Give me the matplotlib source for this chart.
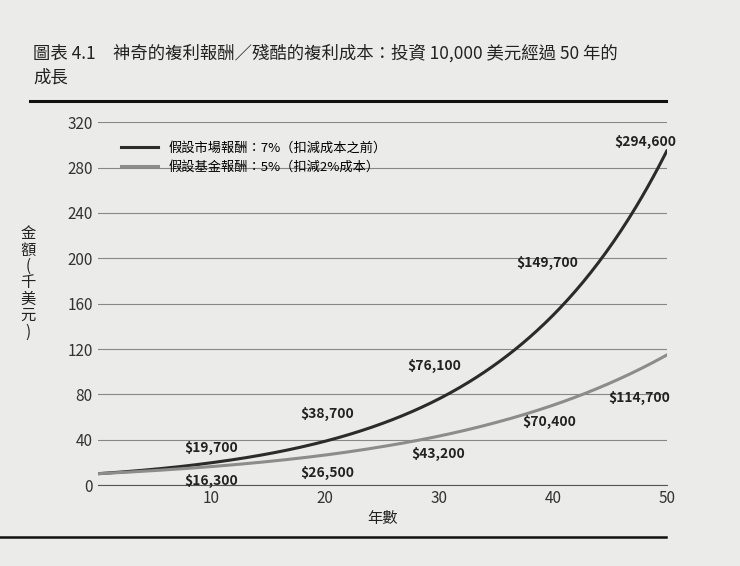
import matplotlib
matplotlib.use('Agg')
import matplotlib.pyplot as plt
import numpy as np

plt.rcParams['font.family'] = ['Noto Sans CJK TC', 'DejaVu Sans']

# Datos (miles de dólares)
anios = [0, 5, 10, 15, 20, 25, 30, 35, 40, 45, 50]
mercado = [10, 14, 19.7, 27.6, 38.7, 54.3, 76.1, 106.8, 149.7, 210, 294.6]
fondo = [10, 12.8, 16.3, 20.8, 26.5, 33.9, 43.2, 55.2, 70.4, 89.9, 114.7]

etiquetas_mercado = [(10, '$19,700'), (20, '$38,700'), (30, '$76,100'),
                     (40, '$149,700'), (50, '$294,600')]
etiquetas_fondo = [(10, '$16,300'), (20, '$26,500'), (30, '$43,200'),
                   (40, '$70,400'), (50, '$114,700')]
# posiciones del texto (x, y) en datos
pos_mercado = [(10, 33), (20.2, 63), (29.6, 105), (39.5, 196), (48.1, 303)]
pos_fondo = [(10, 3.5), (20.2, 10.6), (29.9, 27), (39.7, 56), (47.6, 77)]

fondo_papel = '#ebebea'
fig = plt.figure(figsize=(7.4, 5.66), dpi=100, facecolor=fondo_papel)
ax = fig.add_axes([0.132, 0.143, 0.769, 0.641], facecolor=fondo_papel)

# curvas suaves a partir de los puntos leídos
xs = np.linspace(0, 50, 300)
ax.plot(xs, np.exp(np.interp(xs, anios, np.log(mercado))), color='#2b2b2b', lw=2.2,
        label='假設市場報酬：7%（扣減成本之前）')
ax.plot(xs, np.exp(np.interp(xs, anios, np.log(fondo))), color='#8c8c8c', lw=2.2,
        label='假設基金報酬：5%（扣減2%成本）')

for (x, y), (_, t) in zip(pos_mercado, etiquetas_mercado):
    ax.text(x, y, t, ha='center', va='center', fontsize=10, fontweight='bold', color='#222')
for (x, y), (_, t) in zip(pos_fondo, etiquetas_fondo):
    ax.text(x, y, t, ha='center', va='center', fontsize=10, fontweight='bold', color='#222')

ax.set_xlim(0, 50)
ax.set_ylim(0, 320)
ax.set_yticks(range(0, 321, 40))
ax.set_xticks([10, 20, 30, 40, 50])
ax.yaxis.grid(True, color='#888', lw=0.8)
ax.set_axisbelow(True)
for s in ax.spines.values():
    s.set_visible(False)
ax.spines['bottom'].set_visible(True)
ax.spines['bottom'].set_color('#555')
ax.tick_params(length=0, labelsize=11, colors='#333')
ax.set_xlabel('年數', fontsize=11, color='#222', labelpad=2)
fig.text(0.038, 0.50, '金\n額\n(\n千\n美\n元\n)', ha='center', va='center',
         fontsize=11, color='#222', linespacing=0.95)

ax.legend(loc='upper left', bbox_to_anchor=(0.02, 0.98), frameon=False,
          fontsize=9.5, handlelength=2.8)

fig.text(0.045, 0.885, '圖表 4.1　神奇的複利報酬／殘酷的複利成本：投資 10,000 美元經過 50 年的\n成長',
         fontsize=12.5, color='#222', va='center', linespacing=1.4)
fig.add_artist(plt.Line2D([0.04, 0.9], [0.822, 0.822], color='#111', lw=2.2))
fig.add_artist(plt.Line2D([0.0, 0.9], [0.051, 0.051], color='#111', lw=1.8))

fig.savefig('out.png', dpi=100, facecolor=fondo_papel)
